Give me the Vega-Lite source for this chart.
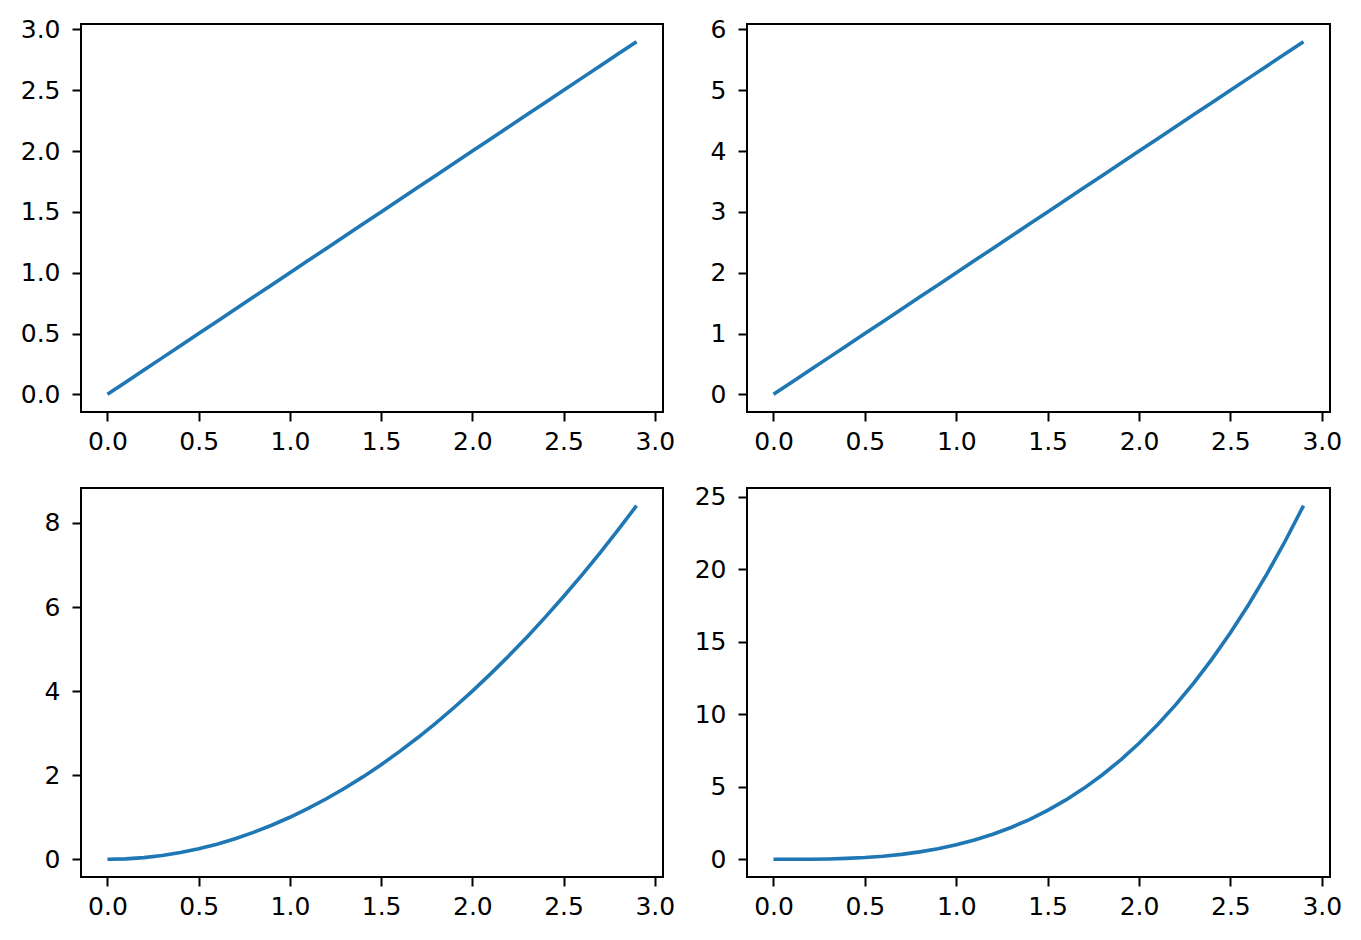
{
  "$schema": "https://vega.github.io/schema/vega-lite/v6.json",
  "background": "white",
  "padding": {"left": 19, "top": 16, "right": 5, "bottom": 5},
  "data": {"values": [
    {"x": 0.0, "a": 0.0, "b": 0.0, "c": 0.0, "d": 0.0},
    {"x": 0.1, "a": 0.1, "b": 0.2, "c": 0.01, "d": 0.001},
    {"x": 0.2, "a": 0.2, "b": 0.4, "c": 0.04, "d": 0.008},
    {"x": 0.3, "a": 0.3, "b": 0.6, "c": 0.09, "d": 0.027},
    {"x": 0.4, "a": 0.4, "b": 0.8, "c": 0.16, "d": 0.064},
    {"x": 0.5, "a": 0.5, "b": 1.0, "c": 0.25, "d": 0.125},
    {"x": 0.6, "a": 0.6, "b": 1.2, "c": 0.36, "d": 0.216},
    {"x": 0.7, "a": 0.7, "b": 1.4, "c": 0.49, "d": 0.343},
    {"x": 0.8, "a": 0.8, "b": 1.6, "c": 0.64, "d": 0.512},
    {"x": 0.9, "a": 0.9, "b": 1.8, "c": 0.81, "d": 0.729},
    {"x": 1.0, "a": 1.0, "b": 2.0, "c": 1.0, "d": 1.0},
    {"x": 1.1, "a": 1.1, "b": 2.2, "c": 1.21, "d": 1.331},
    {"x": 1.2, "a": 1.2, "b": 2.4, "c": 1.44, "d": 1.728},
    {"x": 1.3, "a": 1.3, "b": 2.6, "c": 1.69, "d": 2.197},
    {"x": 1.4, "a": 1.4, "b": 2.8, "c": 1.96, "d": 2.744},
    {"x": 1.5, "a": 1.5, "b": 3.0, "c": 2.25, "d": 3.375},
    {"x": 1.6, "a": 1.6, "b": 3.2, "c": 2.56, "d": 4.096},
    {"x": 1.7, "a": 1.7, "b": 3.4, "c": 2.89, "d": 4.913},
    {"x": 1.8, "a": 1.8, "b": 3.6, "c": 3.24, "d": 5.832},
    {"x": 1.9, "a": 1.9, "b": 3.8, "c": 3.61, "d": 6.859},
    {"x": 2.0, "a": 2.0, "b": 4.0, "c": 4.0, "d": 8.0},
    {"x": 2.1, "a": 2.1, "b": 4.2, "c": 4.41, "d": 9.261},
    {"x": 2.2, "a": 2.2, "b": 4.4, "c": 4.84, "d": 10.648},
    {"x": 2.3, "a": 2.3, "b": 4.6, "c": 5.29, "d": 12.167},
    {"x": 2.4, "a": 2.4, "b": 4.8, "c": 5.76, "d": 13.824},
    {"x": 2.5, "a": 2.5, "b": 5.0, "c": 6.25, "d": 15.625},
    {"x": 2.6, "a": 2.6, "b": 5.2, "c": 6.76, "d": 17.576},
    {"x": 2.7, "a": 2.7, "b": 5.4, "c": 7.29, "d": 19.683},
    {"x": 2.8, "a": 2.8, "b": 5.6, "c": 7.84, "d": 21.952},
    {"x": 2.9, "a": 2.9, "b": 5.8, "c": 8.41, "d": 24.389}
  ]},
  "columns": 2,
  "bounds": "flush",
  "spacing": {"row": 76, "column": 84},
  "config": {
    "font": "DejaVu Sans",
    "view": {"stroke": "black", "strokeWidth": 2},
    "axis": {
      "domain": false,
      "grid": false,
      "ticks": true,
      "tickColor": "black",
      "tickSize": 9,
      "tickWidth": 2,
      "labelFont": "DejaVu Sans",
      "labelFontSize": 25,
      "labelColor": "black",
      "labelPadding": 10,
      "title": null
    },
    "axisX": {"labelPadding": 8},
    "axisY": {"labelPadding": 12},
    "line": {"color": "#1f77b4", "strokeWidth": 3.6}
  },
  "concat": [
    {
      "width": 582, "height": 388,
      "mark": {"type": "line", "clip": true},
      "encoding": {
        "x": {"field": "x", "type": "quantitative", "scale": {"domain": [-0.145, 3.045], "nice": false, "zero": false}, "axis": {"values": [0, 0.5, 1, 1.5, 2, 2.5, 3], "format": ".1f"}},
        "y": {"field": "a", "type": "quantitative", "scale": {"domain": [-0.145, 3.045], "nice": false, "zero": false}, "axis": {"values": [0, 0.5, 1, 1.5, 2, 2.5, 3], "format": ".1f"}}
      }
    },
    {
      "width": 583, "height": 388,
      "mark": {"type": "line", "clip": true},
      "encoding": {
        "x": {"field": "x", "type": "quantitative", "scale": {"domain": [-0.145, 3.045], "nice": false, "zero": false}, "axis": {"values": [0, 0.5, 1, 1.5, 2, 2.5, 3], "format": ".1f"}},
        "y": {"field": "b", "type": "quantitative", "scale": {"domain": [-0.29, 6.09], "nice": false, "zero": false}, "axis": {"values": [0, 1, 2, 3, 4, 5, 6], "format": "d"}}
      }
    },
    {
      "width": 582, "height": 389,
      "mark": {"type": "line", "clip": true},
      "encoding": {
        "x": {"field": "x", "type": "quantitative", "scale": {"domain": [-0.145, 3.045], "nice": false, "zero": false}, "axis": {"values": [0, 0.5, 1, 1.5, 2, 2.5, 3], "format": ".1f"}},
        "y": {"field": "c", "type": "quantitative", "scale": {"domain": [-0.4205, 8.8305], "nice": false, "zero": false}, "axis": {"values": [0, 2, 4, 6, 8], "format": "d"}}
      }
    },
    {
      "width": 583, "height": 389,
      "mark": {"type": "line", "clip": true},
      "encoding": {
        "x": {"field": "x", "type": "quantitative", "scale": {"domain": [-0.145, 3.045], "nice": false, "zero": false}, "axis": {"values": [0, 0.5, 1, 1.5, 2, 2.5, 3], "format": ".1f"}},
        "y": {"field": "d", "type": "quantitative", "scale": {"domain": [-1.21945, 25.60845], "nice": false, "zero": false}, "axis": {"values": [0, 5, 10, 15, 20, 25], "format": "d"}}
      }
    }
  ]
}
